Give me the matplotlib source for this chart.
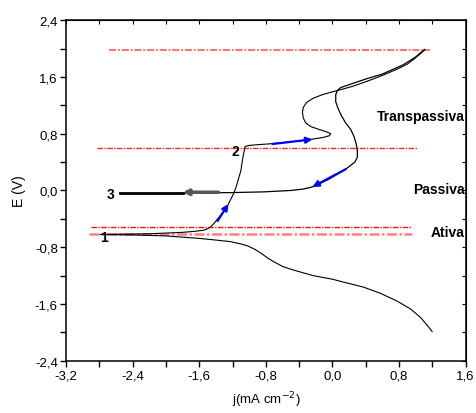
from matplotlib import pyplot as plt
import numpy as np

plt.rcParams['font.family'] = ['Liberation Sans', 'DejaVu Sans']

# cathodic branch (from point 1 downwards)
cat_j = [-2.79, -2.4, -2.0, -1.83, -1.6, -1.43, -1.23, -1.11, -1.02, -0.93,
         -0.85, -0.78, -0.71, -0.60, -0.50, -0.35, -0.23, 0.0, 0.13, 0.37,
         0.58, 0.78, 0.94, 1.06, 1.14, 1.20]
cat_E = [-0.62, -0.627, -0.64, -0.655, -0.675, -0.695, -0.72, -0.75, -0.78, -0.83,
         -0.89, -0.95, -1.0, -1.07, -1.11, -1.16, -1.20, -1.25, -1.29, -1.36,
         -1.45, -1.56, -1.67, -1.79, -1.90, -1.99]

# anodic forward scan (1 -> 2 -> transpassive)
fwd_j = [-2.79, -2.5, -2.2, -2.0, -1.8, -1.65, -1.55, -1.50, -1.46, -1.42,
         -1.38, -1.33, -1.28, -1.25, -1.22, -1.19, -1.16, -1.14, -1.12, -1.10,
         -1.09, -1.08, -1.07, -1.06, -1.05, -1.0, -0.9, -0.72, -0.5, -0.26,
         -0.12, -0.04, -0.02, -0.08, -0.16, -0.26, -0.32, -0.35, -0.36, -0.35,
         -0.31, -0.23, -0.12, 0.0, 0.10, 0.25, 0.42, 0.60, 0.78, 0.90,
         0.98, 1.05, 1.11]
fwd_E = [-0.62, -0.615, -0.61, -0.60, -0.59, -0.575, -0.56, -0.54, -0.51, -0.46,
         -0.40, -0.33, -0.26, -0.19, -0.12, -0.05, 0.04, 0.12, 0.20, 0.28,
         0.36, 0.44, 0.50, 0.56, 0.62, 0.635, 0.645, 0.66, 0.685, 0.72,
         0.745, 0.77, 0.80, 0.83, 0.86, 0.90, 0.95, 1.02, 1.10, 1.17,
         1.24, 1.30, 1.35, 1.39, 1.42, 1.47, 1.54, 1.62, 1.71, 1.78,
         1.85, 1.92, 1.98]

# reverse scan (back down to 3)
rev_j = [1.11, 1.0, 0.85, 0.60, 0.40, 0.20, 0.10, 0.06, 0.04, 0.04,
         0.07, 0.11, 0.16, 0.22, 0.26, 0.285, 0.30, 0.30, 0.27, 0.16,
         -0.04, -0.24, -0.35, -0.50, -0.83, -1.23, -1.60, -1.80]
rev_E = [1.99, 1.88, 1.77, 1.64, 1.57, 1.49, 1.45, 1.41, 1.35, 1.25,
         1.15, 1.05, 0.95, 0.86, 0.76, 0.66, 0.56, 0.47, 0.40, 0.30,
         0.16, 0.05, 0.02, 0.0, -0.02, -0.03, -0.035, -0.04]

tail_j = [-1.80, -2.55]
tail_E = [-0.04, -0.04]

# red dash-dot reference lines
ref_E = [1.98, 0.60, -0.51, -0.62]
ref_j0 = [-2.69, -2.83, -2.90, -2.92]
ref_j1 = [1.17, 1.02, 0.96, 0.96]
ref_alpha = [0.6, 0.85, 0.95, 0.5]
ref_lw = [1.3, 1.0, 1.0, 1.8]

# blue arrows: (start j, start E, end j, end E)
arrows = [(-1.38, -0.43, -1.25, -0.19),
          (-0.72, 0.655, -0.24, 0.72),
          (0.16, 0.30, -0.24, 0.05)]
gray_arrow = (-1.37, -0.025, -1.80, -0.025)

points = ['1', '2', '3']
points_j = [-2.75, -1.17, -2.67]
points_E = [-0.66, 0.56, -0.05]

regions = ['Transpassiva', 'Passiva', 'Ativa']
regions_E = [1.05, 0.02, -0.58]

fig = plt.figure(figsize=(4.76, 4.14), dpi=100)
ax = fig.add_axes([0.139, 0.126, 0.839, 0.823])

for E, a, b, al, lw in zip(ref_E, ref_j0, ref_j1, ref_alpha, ref_lw):
    ax.plot([a, b], [E, E], color='red', ls='-.', lw=lw, alpha=al,
            dashes=(4, 1, 1, 1))

kw = dict(color='black', solid_joinstyle='round', solid_capstyle='round')
ax.plot(cat_j, cat_E, lw=0.8, **kw)
ax.plot(fwd_j, fwd_E, lw=0.8, **kw)
ax.plot(rev_j, rev_E, lw=0.9, **kw)
ax.plot(tail_j, tail_E, lw=2.0, color='black')

for a in arrows:
    ax.annotate('', xy=(a[2], a[3]), xytext=(a[0], a[1]),
                arrowprops=dict(arrowstyle='-|>', color='blue', lw=1.6,
                                mutation_scale=9, shrinkA=0, shrinkB=0))
ax.annotate('', xy=(gray_arrow[2], gray_arrow[3]),
            xytext=(gray_arrow[0], gray_arrow[1]),
            arrowprops=dict(arrowstyle='-|>', color='#555555', lw=2.5,
                            mutation_scale=8, shrinkA=0, shrinkB=0))

for t, x, y in zip(points, points_j, points_E):
    ax.text(x, y, t, fontsize=10, fontweight='bold', ha='center', va='center')

for t, y in zip(regions, regions_E):
    ax.text(1.585, y, t, fontsize=10, fontweight='bold', ha='right', va='center')

ax.set_xlim(-3.2, 1.6)
ax.set_ylim(-2.4, 2.4)
major = np.arange(-3.2, 1.61, 0.8)
ymajor = np.arange(-2.4, 2.41, 0.8)
ax.set_xticks(major)
ax.set_yticks(ymajor)
ax.set_xticks(np.arange(-2.8, 1.6, 0.8), minor=True)
ax.set_yticks(np.arange(-2.0, 2.4, 0.8), minor=True)
fmt = lambda v: ('%.1f' % v).replace('.', ',').replace('-0,0', '0,0')
ax.set_xticklabels([fmt(v) for v in major], fontsize=9.5)
ax.set_yticklabels([fmt(v) for v in ymajor], fontsize=9.5)
ax.tick_params(which='both', direction='out', length=4, width=1, pad=2)
for s in ax.spines.values():
    s.set_linewidth(1.1)

top = ax.secondary_xaxis('top')
top.set_xticks(np.arange(-3.2, 1.61, 0.4))
top.tick_params(direction='in', length=3, labeltop=False)
right = ax.secondary_yaxis('right')
right.set_yticks(np.arange(-2.4, 2.41, 0.4))
right.tick_params(direction='in', length=3, labelright=False)

ax.set_xlabel('j(mA cm$^{-2}$)', fontsize=9.5)
ax.set_ylabel('E (V)', fontsize=10)
ax.xaxis.set_label_coords(0.5, -0.085)
ax.yaxis.set_label_coords(-0.10, 0.5)

fig.savefig('out.png', dpi=100)
